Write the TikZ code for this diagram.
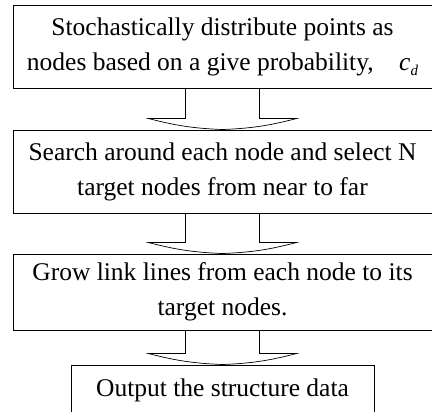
\documentclass[tikz,border=0pt]{standalone}
\usepackage{fontspec}
\setmainfont{Liberation Serif}
\usetikzlibrary{positioning, calc, backgrounds}

\tikzset{
    stepbox/.style={draw, line width=0.9pt, minimum width=419pt, minimum height=83pt, align=center, font=\fontsize{25.5}{35}\selectfont},
    flowarrow/.style={draw, line width=0.7pt, fill=white}
}
\newcommand{\flowdown}[2]{%
    \draw[flowarrow] ($(#1.south)+(-37,0)$) -- ($(#2.north)+(-37,11)$) -- ($(#2.north)+(-74,11)$)
        to[bend right=6] (#2.north) to[bend right=6] ($(#2.north)+(74,11)$)
        -- ($(#2.north)+(37,11)$) -- ($(#1.south)+(37,0)$);}

\begin{document}
\begin{tikzpicture}[x=1pt, y=1pt]
    \clip (0,0) rectangle (432,412);

    % steps
    \node[stepbox] (place) at (222.5,365.5) {Stochastically distribute points as\\nodes based on a give probability,\quad\textit{c}\raisebox{-5pt}{\fontsize{15}{15}\selectfont\textit{d}}};
    \node[stepbox] (search) at (222.5,240.5) {Search around each node and select N\\target nodes from near to far};
    \node[stepbox, minimum height=76pt] (grow) at (222.5,120) {Grow link lines from each node to its\\target nodes.};
    \node[stepbox, minimum width=303pt, minimum height=50pt] (output) at (222.5,22) {Output the structure data};

    % arrows
    \begin{scope}[on background layer]
        \fill[white] (0,0) rectangle (432,412);
        \flowdown{place}{search}
        \flowdown{search}{grow}
        \flowdown{grow}{output}
    \end{scope}
\end{tikzpicture}
\end{document}
